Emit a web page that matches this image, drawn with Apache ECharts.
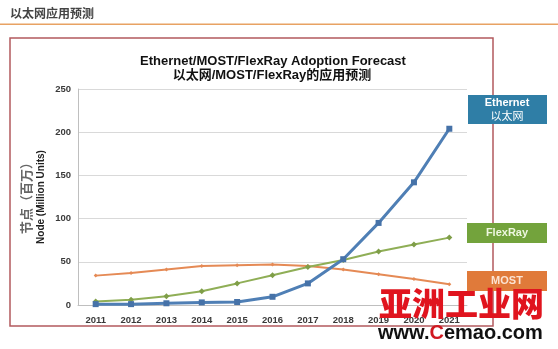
<!DOCTYPE html>
<html>
<head>
<meta charset="utf-8">
<script src="https://cdn.jsdelivr.net/npm/echarts@6/dist/echarts.min.js"></script>
<style>
html,body{margin:0;padding:0;background:#fff;}
#c{width:558px;height:349px;}
</style>
</head>
<body>
<div id="c"></div>
<script>
var years = ['2011','2012','2013','2014','2015','2016','2017','2018','2019','2020','2021'];
var ethernet = [1, 1, 2, 3, 3.5, 9.5, 25, 53, 95, 142, 204];
var flexray = [4, 6, 10, 16, 25, 34.5, 44, 52, 62, 70, 78];
var most = [34, 37, 41, 45, 46, 47, 45, 41, 35.5, 30, 24];
var yTicks = [0, 50, 100, 150, 200, 250];

var FF = 'Liberation Sans, Arial, Noto Sans CJK SC, sans-serif';
var chart = echarts.init(document.getElementById('c'));
chart.setOption({
  animation: false,
  backgroundColor: '#ffffff',
  grid: {left: 78, right: 91, top: 89, bottom: 44, containLabel: false},
  xAxis: {
    type: 'category', data: years, boundaryGap: true,
    axisLine: {show: true, lineStyle: {color: '#bfbfbf', width: 1}},
    axisTick: {show: false},
    axisLabel: {fontFamily: FF, fontSize: 9.5, fontWeight: 'bold', color: '#3a3a3a', margin: 11}
  },
  yAxis: {
    type: 'value', min: yTicks[0], max: yTicks[yTicks.length-1], interval: 50,
    axisLine: {show: true, lineStyle: {color: '#bfbfbf', width: 1}},
    axisTick: {show: false},
    splitLine: {lineStyle: {color: '#d9d9d9', width: 1}},
    axisLabel: {fontFamily: FF, fontSize: 9.5, fontWeight: 'bold', color: '#3a3a3a', margin: 7}
  },
  series: [
    {name: 'MOST', type: 'line', data: most, symbol: 'diamond', symbolSize: 4,
     lineStyle: {color: '#e58a55', width: 2}, itemStyle: {color: '#e58a55'}},
    {name: 'FlexRay', type: 'line', data: flexray, symbol: 'diamond', symbolSize: 6,
     lineStyle: {color: '#8fae56', width: 2}, itemStyle: {color: '#7f9e48'}},
    {name: 'Ethernet', type: 'line', data: ethernet, symbol: 'rect', symbolSize: 6,
     lineStyle: {color: '#4f7fb5', width: 3}, itemStyle: {color: '#4672a8'}}
  ],
  graphic: [
    {type: 'text', left: 10, top: 7, style: {text: '以太网应用预测', font: 'bold 12px "Noto Sans CJK SC"', fill: '#444'}},
    {type: 'rect', shape: {x: 0, y: 23.5, width: 558, height: 1.5}, style: {fill: '#e8a263'}},
    {type: 'rect', z: -1, shape: {x: 10, y: 38, width: 483, height: 288}, style: {fill: 'none', stroke: '#b35a5e', lineWidth: 1.5}},
    {type: 'text', x: 273, y: 61, style: {text: 'Ethernet/MOST/FlexRay Adoption Forecast', font: 'bold 13px "Liberation Sans"', fill: '#111', textAlign: 'center', textVerticalAlign: 'middle'}},
    {type: 'text', x: 272, y: 75, style: {text: '以太网/MOST/FlexRay的应用预测', font: 'bold 13px "Liberation Sans", "Noto Sans CJK SC"', fill: '#111', textAlign: 'center', textVerticalAlign: 'middle'}},
    {type: 'text', x: 26, y: 195, rotation: Math.PI/2, style: {text: '节点（百万）', font: 'bold 13px "Noto Sans CJK SC"', fill: '#666', textAlign: 'center', textVerticalAlign: 'middle'}},
    {type: 'text', x: 41, y: 197, rotation: Math.PI/2, style: {text: 'Node (Million Units)', font: 'bold 10px "Liberation Sans"', fill: '#222', textAlign: 'center', textVerticalAlign: 'middle'}},
    {type: 'rect', shape: {x: 468, y: 95, width: 79, height: 29}, style: {fill: '#2f7ea6'}},
    {type: 'text', x: 507, y: 103, style: {text: 'Ethernet', font: 'bold 11px "Liberation Sans"', fill: '#fff', textAlign: 'center', textVerticalAlign: 'middle'}},
    {type: 'text', x: 507, y: 116, style: {text: '以太网', font: '11px "Noto Sans CJK SC"', fill: '#fff', textAlign: 'center', textVerticalAlign: 'middle'}},
    {type: 'rect', shape: {x: 467, y: 223, width: 80, height: 20}, style: {fill: '#73a33c'}},
    {type: 'text', x: 507, y: 233, style: {text: 'FlexRay', font: 'bold 11px "Liberation Sans"', fill: '#eef7e0', textAlign: 'center', textVerticalAlign: 'middle'}},
    {type: 'rect', shape: {x: 467, y: 271, width: 80, height: 20}, style: {fill: '#e07a3a'}},
    {type: 'text', x: 507, y: 281, style: {text: 'MOST', font: 'bold 11px "Liberation Sans"', fill: '#fbe3d3', textAlign: 'center', textVerticalAlign: 'middle'}},
    {type: 'text', x: 379, y: 303, z: 10, style: {text: '亚洲工业网', font: '900 33px "Noto Sans CJK SC"', fill: '#e0141e', textAlign: 'left', textVerticalAlign: 'middle'}},
    {type: 'text', x: 378, y: 333, z: 10, style: {text: 'www.{r|C}emao.com', font: 'bold 20px "Liberation Sans"', fill: '#111', textAlign: 'left', textVerticalAlign: 'middle', rich: {r: {fill: '#d01820', font: 'bold 20px "Liberation Sans"'}}}}
  ]
});
</script>
</body>
</html>
